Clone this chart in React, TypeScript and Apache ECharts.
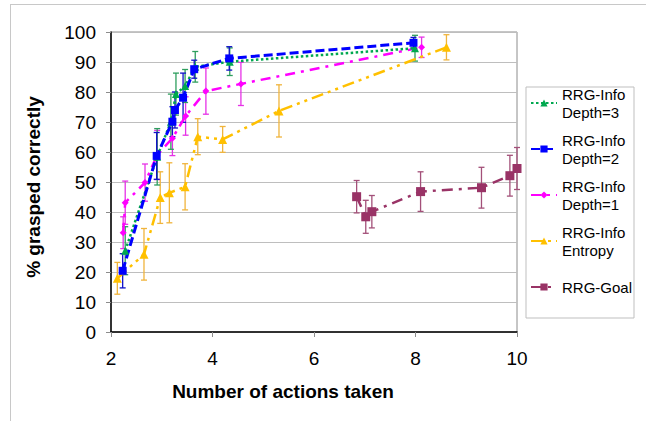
import React, { useEffect, useRef } from "react";
import * as echarts from "echarts";

const xTicks = [2, 4, 6, 8, 10];
const yTicks = [0, 10, 20, 30, 40, 50, 60, 70, 80, 90, 100];

const d3X = [2.28, 2.91, 3.18, 3.28, 3.46, 3.66, 4.34, 7.99];
const d3Y = [27.1, 58.4, 70.1, 79.3, 82.0, 88.4, 90.1, 94.6];
const d3E = [8.0, 9.4, 9.2, 7.0, 5.5, 5.1, 4.6, 4.3];

const d2X = [2.23, 2.9, 3.21, 3.26, 3.42, 3.64, 4.33, 7.96];
const d2Y = [20.4, 58.7, 70.1, 74.0, 78.1, 87.6, 91.2, 96.4];
const d2E = [5.7, 7.8, 5.0, 6.0, 8.2, 3.0, 3.9, 1.8];

const d1X = [2.24, 2.28, 2.67, 2.91, 3.21, 3.47, 3.87, 4.56, 8.12];
const d1Y = [33.1, 43.1, 49.8, 59.0, 64.6, 72.0, 80.3, 82.7, 94.9];
const d1E = [5.3, 7.2, 6.2, 8.2, 5.8, 6.4, 7.7, 7.2, 3.4];

const enX = [2.125, 2.65, 2.97, 3.15, 3.46, 3.71, 4.2, 5.31, 8.61];
const enY = [17.9, 25.9, 44.8, 46.4, 48.4, 65.1, 64.2, 73.7, 94.9];
const enE = [5.3, 8.6, 8.6, 10.0, 7.7, 6.0, 4.3, 8.7, 4.2];

const goX = [6.84, 7.02, 7.14, 8.1, 9.3, 9.86, 10.0];
const goY = [45.1, 38.4, 40.1, 46.8, 48.1, 52.1, 54.5];
const goE = [5.4, 5.5, 5.4, 6.6, 6.8, 6.8, 7.0];

const FONT = "'Liberation Sans', Arial, sans-serif";

type S = {
  name: string;
  xs: number[];
  ys: number[];
  es: number[];
  color: string;
  errColor: string;
  symbol: string;
  symbolSize: number;
  dash: number[];
  width: number;
};

const seriesDefs: S[] = [
  { name: "RRG-Goal", xs: goX, ys: goY, es: goE, color: "#993366", errColor: "#A35079", symbol: "rect", symbolSize: 9, dash: [11, 6, 3, 6], width: 2.5 },
  { name: "RRG-Info Entropy", xs: enX, ys: enY, es: enE, color: "#FFC000", errColor: "#F0B43C", symbol: "triangle", symbolSize: 9, dash: [12, 5, 3, 5, 3, 5], width: 2.5 },
  { name: "RRG-Info Depth=1", xs: d1X, ys: d1Y, es: d1E, color: "#FF00FF", errColor: "#E632E6", symbol: "diamond", symbolSize: 7, dash: [10, 6, 3, 6], width: 2.5 },
  { name: "RRG-Info Depth=3", xs: d3X, ys: d3Y, es: d3E, color: "#00A84F", errColor: "#2E9E5E", symbol: "triangle", symbolSize: 8, dash: [2.5, 2.5], width: 2.5 },
  { name: "RRG-Info Depth=2", xs: d2X, ys: d2Y, es: d2E, color: "#0000FF", errColor: "#1010C8", symbol: "rect", symbolSize: 8, dash: [9, 4], width: 3 },
];

const legendOrder = ["RRG-Info Depth=3", "RRG-Info Depth=2", "RRG-Info Depth=1", "RRG-Info Entropy", "RRG-Goal"];

export default function App() {
  const ref = useRef<HTMLDivElement>(null);
  useEffect(() => {
    document.body.style.margin = "0";
    if (!ref.current) return;
    const chart = echarts.init(ref.current, undefined, { renderer: "svg" });
    const series: any[] = [];
    seriesDefs.forEach((s) => {
      series.push({
        name: s.name + " error",
        type: "custom",
        silent: true,
        clip: false,
        encode: { x: 0, y: [1, 2] },
        data: s.xs.map((x, i) => [x, s.ys[i] - s.es[i], s.ys[i] + s.es[i]]),
        renderItem: (params: any, api: any) => {
          const x = api.value(0);
          const top = api.coord([x, api.value(2)]);
          const bot = api.coord([x, api.value(1)]);
          const w = 3;
          const st = { stroke: s.errColor, lineWidth: 1.3 };
          return {
            type: "group",
            children: [
              { type: "line", shape: { x1: top[0], y1: top[1], x2: bot[0], y2: bot[1] }, style: st },
              { type: "line", shape: { x1: top[0] - w, y1: top[1], x2: top[0] + w, y2: top[1] }, style: st },
              { type: "line", shape: { x1: bot[0] - w, y1: bot[1], x2: bot[0] + w, y2: bot[1] }, style: st },
            ],
          };
        },
      });
      series.push({
        name: s.name,
        type: "line",
        data: s.xs.map((x, i) => [x, s.ys[i]]),
        symbol: s.symbol,
        symbolSize: s.symbolSize,
        showSymbol: true,
        clip: false,
        itemStyle: { color: s.color },
        lineStyle: { color: s.color, width: s.width, type: s.dash },
      });
    });

    chart.setOption({
      animation: false,
      textStyle: { fontFamily: FONT },
      grid: {
        left: 111,
        top: 32,
        right: 129,
        bottom: 89,
        show: true,
        borderColor: "#8C8C8C",
        borderWidth: 1,
      },
      xAxis: {
        type: "value",
        min: xTicks[0],
        max: xTicks[xTicks.length - 1],
        interval: xTicks[1] - xTicks[0],
        axisLine: { show: true, onZero: false, lineStyle: { color: "#000", width: 1.5 } },
        axisTick: { show: true, length: 5, lineStyle: { color: "#8C8C8C" } },
        splitLine: { show: false },
        axisLabel: { fontSize: 19, color: "#000", margin: 17, fontFamily: FONT },
      },
      yAxis: {
        type: "value",
        min: yTicks[0],
        max: yTicks[yTicks.length - 1],
        interval: yTicks[1] - yTicks[0],
        axisLine: { show: true, onZero: false, lineStyle: { color: "#000", width: 1.5 } },
        axisTick: { show: true, length: 5, lineStyle: { color: "#8C8C8C" } },
        splitLine: { show: true, lineStyle: { color: "#BEBEBE", width: 1 } },
        axisLabel: { fontSize: 19, color: "#000", margin: 15, fontFamily: FONT },
      },
      legend: {
        orient: "vertical",
        left: 530,
        top: 76,
        padding: 0,
        itemWidth: 26,
        itemHeight: 9,
        itemGap: -8,
        selectedMode: false,
        formatter: (name: string) => name.replace("RRG-Info ", "RRG-Info\n"),
        textStyle: { fontSize: 15, lineHeight: 18, color: "#000", fontFamily: FONT, padding: [18, 0, 0, 0] },
        data: legendOrder.map((n) =>
          n === "RRG-Goal" ? { name: n, textStyle: { padding: [18, 0, 18, 0] } } : { name: n }
        ),
      },
      graphic: [
        { type: "line", shape: { x1: 10, y1: 4.5, x2: 646, y2: 4.5 }, style: { stroke: "#C8C8C8", lineWidth: 1 }, silent: true },
        { type: "line", shape: { x1: 10.5, y1: 4, x2: 10.5, y2: 421 }, style: { stroke: "#C8C8C8", lineWidth: 1 }, silent: true },
        { type: "rect", shape: { x: 526, y: 87, width: 108, height: 231 }, style: { fill: "none", stroke: "#BFBFBF", lineWidth: 1 }, silent: true },
        {
          type: "text",
          x: 33,
          y: 187,
          rotation: Math.PI / 2,
          style: { text: "% grasped correctly", font: `bold 19px ${FONT}`, fill: "#000", align: "center", verticalAlign: "middle" },
          silent: true,
        },
        {
          type: "text",
          x: 283,
          y: 391,
          style: { text: "Number of actions taken", font: `bold 19px ${FONT}`, fill: "#000", align: "center", verticalAlign: "middle" },
          silent: true,
        },
      ],
      series,
    });
    return () => chart.dispose();
  }, []);
  return <div ref={ref} style={{ width: 646, height: 421 }} />;
}
